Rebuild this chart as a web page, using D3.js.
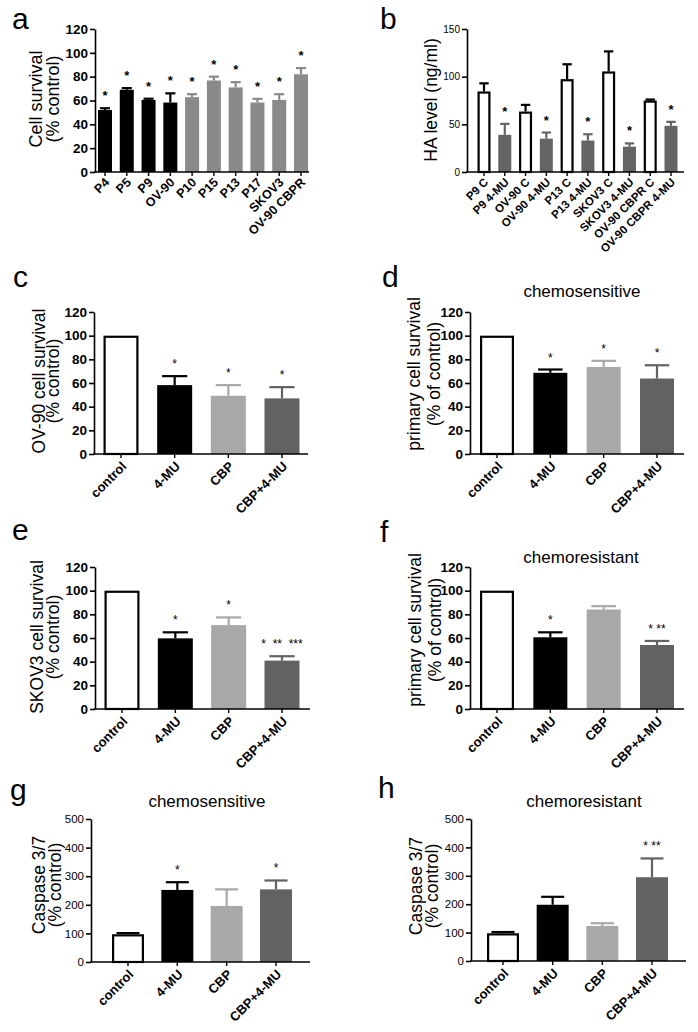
<!DOCTYPE html>
<html><head><meta charset="utf-8">
<script src="https://cdn.jsdelivr.net/npm/d3@7"></script>
<style>
body{margin:0;background:#fff}
svg{display:block}
text{font-family:Arial,"Liberation Sans",sans-serif;fill:#000}
</style>
</head><body><svg id="chart" width="698" height="1032"></svg>
<script>
// ---------- DATA ----------
// Panel a
const aCategories = ["P4","P5","P9","OV-90","P10","P15","P13","P17","SKOV3","OV-90 CBPR"];
const aValues = [52,69,60.5,58.3,62.8,76.8,71,58.3,60.5,82];
const aErrors = [1.5,1.4,1,7.7,2.5,3.2,4.4,3.1,4.8,5.2];
const aStars  = ["*","*","*","*","*","*","*","*","*","*"];
const aGroups = ["primary","primary","primary","primary","resist","resist","resist","resist","resist","resist"];
const aTicks = [0,20,40,60,80,100,120];

// Panel b
const bCategories = ["P9 C","P9 4-MU","OV-90 C","OV-90 4-MU","P13 C","P13 4-MU","SKOV3 C","SKOV3 4-MU","OV-90 CBPR C","OV-90 CBPR 4-MU"];
const bValues = [84.5,39,63.4,35,97.4,33,105.5,26.6,75,48.4];
const bErrors = [8.5,11.5,7,6.4,15.6,6.6,21,3.4,1,4.2];
const bStars  = ["","*","","*","","*","","*","","*"];
const bGroups = ["C","MU","C","MU","C","MU","C","MU","C","MU"];
const bTicks = [0,50,100,150];

// Treatment panels c–h
const treatCategories = ["control","4-MU","CBP","CBP+4-MU"];
const survivalTicks = [0,20,40,60,80,100,120];
const caspaseTicks = [0,100,200,300,400,500];

const cValues = [100,58.2,49.2,47];
const cErrors = [0,7.6,9,9.5];
const cStars  = ["","*","*","*"];

const dValues = [100,68.6,73.6,63.8];
const dErrors = [0,2.8,5.1,11.2];
const dStars  = ["","*","*","*"];

const eValues = [100,59.7,70.9,40.9];
const eErrors = [0,5.1,6.5,3.7];
const eStars  = ["","*","*","*  **  ***"];

const fValues = [100,60.6,84.1,54.1];
const fErrors = [0,4.2,2.8,3.4];
const fStars  = ["","*","","* **"];

const gValues = [97,252,196,254];
const gErrors = [4,27,58,31];
const gStars  = ["","*","","*"];

const hValues = [97.6,198,123.5,295];
const hErrors = [4.4,28,9.5,66];
const hStars  = ["","","","* **"];

// ---------- STYLE ----------
const colorA = {primary:"#000000", resist:"#8a8a8a"};
const colorB = {C:"#ffffff", MU:"#646464"};
const colorTreat = ["#ffffff","#000000","#a8a8a8","#626262"];

const svg = d3.select("#chart");

function panel(p) {
  const g = svg.append("g");
  const n = p.cats.length;
  const step = (p.cLast - p.cFirst) / (n - 1);
  const pad = 1 - p.barW / step;
  const x = d3.scaleBand().domain(p.cats)
    .range([p.cFirst - step / 2, p.cLast + step / 2])
    .paddingInner(pad).paddingOuter(pad / 2);
  const y = d3.scaleLinear().domain([0, p.yMax]).range([p.y0, p.yTop]);
  const data = p.cats.map((c, i) => ({c, v: p.vals[i], e: p.errs[i], s: p.stars[i], col: p.colors[i]}));

  // bars
  g.selectAll("rect.bar").data(data).join("rect")
    .attr("class", "bar")
    .attr("x", d => d.col === "#ffffff" ? x(d.c) + 1.1 : x(d.c))
    .attr("width", d => d.col === "#ffffff" ? x.bandwidth() - 2.2 : x.bandwidth())
    .attr("y", d => d.col === "#ffffff" ? y(d.v) + 1.1 : y(d.v))
    .attr("height", d => d.col === "#ffffff" ? p.y0 - y(d.v) - 1.1 : p.y0 - y(d.v))
    .attr("fill", d => d.col)
    .attr("stroke", d => d.col === "#ffffff" ? "#000" : "none")
    .attr("stroke-width", 2.2);

  // error bars
  const eb = g.selectAll("g.err").data(data.filter(d => d.e > 0)).join("g").attr("class", "err");
  const ec = d => d.col === "#ffffff" ? "#000" : d.col;
  const cw = x.bandwidth() * 0.36;
  eb.append("line")
    .attr("x1", d => x(d.c) + x.bandwidth() / 2).attr("x2", d => x(d.c) + x.bandwidth() / 2)
    .attr("y1", d => y(d.v)).attr("y2", d => y(d.v + d.e))
    .attr("stroke", ec).attr("stroke-width", 2.2);
  eb.append("line")
    .attr("x1", d => x(d.c) + x.bandwidth() / 2 - cw).attr("x2", d => x(d.c) + x.bandwidth() / 2 + cw)
    .attr("y1", d => y(d.v + d.e)).attr("y2", d => y(d.v + d.e))
    .attr("stroke", ec).attr("stroke-width", 2.2);

  // stars
  g.selectAll("text.star").data(data.filter(d => d.s)).join("text")
    .attr("class", "star")
    .attr("x", d => x(d.c) + x.bandwidth() / 2)
    .attr("y", d => y(d.v + d.e) - p.starOff)
    .attr("text-anchor", "middle")
    .style("font-size", p.starSize + "px")
    .style("font-weight", p.starBold ? "bold" : "normal")
    .style("white-space", "pre")
    .text(d => d.s);

  // y axis
  const ya = g.append("g").attr("transform", `translate(${p.ax},0)`)
    .call(d3.axisLeft(y).tickValues(p.ticks).tickSize(5).tickSizeOuter(0).tickPadding(2));
  ya.select(".domain").attr("stroke-width", 1.6);
  ya.selectAll(".tick line").attr("stroke-width", 1.6);
  ya.selectAll(".tick text")
    .style("font-size", p.tickSize + "px")
    .style("font-weight", p.tickBold ? "bold" : "normal")
    .style("font-family", "Arial, 'Liberation Sans', sans-serif")
    .attr("fill", "#000");

  // x axis
  g.append("line").attr("x1", p.ax - 0.8).attr("x2", p.xEnd).attr("y1", p.y0).attr("y2", p.y0)
    .attr("stroke", "#000").attr("stroke-width", 1.6);
  const xa = g.append("g").attr("transform", `translate(0,${p.y0})`)
    .call(d3.axisBottom(x).tickSize(4).tickSizeOuter(0));
  xa.select(".domain").remove();
  xa.selectAll(".tick line").attr("stroke-width", 1.4);
  xa.selectAll(".tick text")
    .attr("x", 0).attr("y", 0).attr("dy", "0.35em")
    .attr("transform", `translate(${p.lblDx},${p.lblDy}) rotate(-45)`)
    .style("text-anchor", "end")
    .style("font-size", p.lblSize + "px")
    .style("font-weight", "bold")
    .style("font-family", "Arial, 'Liberation Sans', sans-serif")
    .attr("fill", "#000");

  // y title
  p.yTitle.forEach((t, i) => {
    g.append("text")
      .attr("transform", `translate(${p.yTitleX[i]},${p.yTitleY}) rotate(-90)`)
      .attr("text-anchor", "middle")
      .style("font-size", p.yTitleSize + "px")
      .text(t);
  });

  // panel letter
  g.append("text").attr("x", p.letterX).attr("y", p.letterY)
    .style("font-size", "30px").text(p.letter);

  // chart title
  if (p.title) {
    g.append("text").attr("x", p.titleX).attr("y", p.titleY)
      .attr("text-anchor", "middle").style("font-size", "17px").text(p.title);
  }
}

const survCommon = {yMax: 120, ticks: survivalTicks, tickSize: 13.5, tickBold: true,
  starSize: 12, starBold: false, starOff: 8, lblSize: 13, lblDx: 3, lblDy: 10, yTitleSize: 17.5};
const caspCommon = {yMax: 500, ticks: caspaseTicks, tickSize: 11.5, tickBold: false,
  starSize: 12, starBold: false, starOff: 8, lblSize: 13, lblDx: 3, lblDy: 10, yTitleSize: 17.5};

// a
panel({cats: aCategories, vals: aValues, errs: aErrors, stars: aStars,
  colors: aGroups.map(k => colorA[k]),
  yMax: 120, ticks: aTicks, tickSize: 13.5, tickBold: true,
  ax: 95, yTop: 29, y0: 172, cFirst: 105, cLast: 301, barW: 14, xEnd: 309,
  starSize: 13, starBold: true, starOff: 8, lblSize: 12.5, lblDx: 2, lblDy: 8,
  yTitle: ["Cell survival", "(% control)"], yTitleX: [42, 59], yTitleY: 99, yTitleSize: 18,
  letter: "a", letterX: 12, letterY: 29});

// b
panel({cats: bCategories, vals: bValues, errs: bErrors, stars: bStars,
  colors: bGroups.map(k => colorB[k]),
  yMax: 150, ticks: bTicks, tickSize: 10, tickBold: false,
  ax: 467, yTop: 29, y0: 172, cFirst: 484, cLast: 671, barW: 13, xEnd: 684,
  starSize: 13, starBold: true, starOff: 8, lblSize: 11.5, lblDx: 2, lblDy: 8,
  yTitle: ["HA level (ng/ml)"], yTitleX: [437], yTitleY: 100, yTitleSize: 17.5,
  letter: "b", letterX: 380, letterY: 29});

// c
panel(Object.assign({}, survCommon, {cats: treatCategories, vals: cValues, errs: cErrors, stars: cStars,
  colors: colorTreat, ax: 94, yTop: 312, y0: 454, cFirst: 121, cLast: 282, barW: 35, xEnd: 308,
  yTitle: ["OV-90 cell survival", "(% control)"], yTitleX: [45, 59], yTitleY: 381,
  letter: "c", letterX: 13, letterY: 287}));

// d
panel(Object.assign({}, survCommon, {cats: treatCategories, vals: dValues, errs: dErrors, stars: dStars,
  colors: colorTreat, ax: 470, yTop: 312, y0: 454, cFirst: 497, cLast: 657, barW: 34, xEnd: 684,
  yTitle: ["primary cell survival", "(% of control)"], yTitleX: [420, 440], yTitleY: 374,
  letter: "d", letterX: 382, letterY: 287, title: "chemosensitive", titleX: 582, titleY: 297}));

// e
panel(Object.assign({}, survCommon, {cats: treatCategories, vals: eValues, errs: eErrors, stars: eStars,
  colors: colorTreat, ax: 95, yTop: 567, y0: 709, cFirst: 122, cLast: 282, barW: 35, xEnd: 310,
  yTitle: ["SKOV3 cell survival", "(% control)"], yTitleX: [43, 59], yTitleY: 637,
  letter: "e", letterX: 12, letterY: 540}));

// f
panel(Object.assign({}, survCommon, {cats: treatCategories, vals: fValues, errs: fErrors, stars: fStars,
  colors: colorTreat, ax: 470, yTop: 567, y0: 709, cFirst: 497, cLast: 657, barW: 34, xEnd: 684,
  yTitle: ["primary cell survival", "(% of control)"], yTitleX: [421, 441], yTitleY: 630,
  letter: "f", letterX: 380, letterY: 542, title: "chemoresistant", titleX: 581, titleY: 563}));

// g
panel(Object.assign({}, caspCommon, {cats: treatCategories, vals: gValues, errs: gErrors, stars: gStars,
  colors: colorTreat, ax: 91, yTop: 819, y0: 962, cFirst: 128, cLast: 276, barW: 32, xEnd: 310,
  yTitle: ["Caspase 3/7", "(% control)"], yTitleX: [45, 61], yTitleY: 885,
  letter: "g", letterX: 10, letterY: 800, title: "chemosensitive", titleX: 207, titleY: 807}));

// h
panel(Object.assign({}, caspCommon, {cats: treatCategories, vals: hValues, errs: hErrors, stars: hStars,
  colors: colorTreat, ax: 471, yTop: 819, y0: 961, cFirst: 503, cLast: 652, barW: 32, xEnd: 686,
  yTitle: ["Caspase 3/7", "(% control)"], yTitleX: [422, 438], yTitleY: 886,
  letter: "h", letterX: 378, letterY: 798, title: "chemoresistant", titleX: 584, titleY: 807}));
</script>
</body></html>
